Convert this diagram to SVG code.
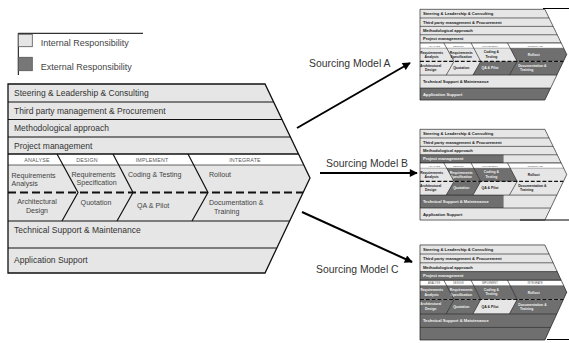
<svg xmlns="http://www.w3.org/2000/svg" xmlns:xlink="http://www.w3.org/1999/xlink" width="569" height="343" viewBox="0 0 569 343">
<style>
.bg{fill:#fff}
.lt{fill:#e6e6e6}
.dk{fill:#6f6f6f}
.wh{fill:#fff}
.ln{fill:none;stroke:#111;stroke-width:1.2}
.lnb{fill:none;stroke:#111;stroke-width:1.6}
.lnt{fill:none;stroke:#222;stroke-width:0.7}
.dash{fill:none;stroke:#111;stroke-width:2.2;stroke-dasharray:8 4}
.out{fill:none;stroke:#111;stroke-width:1.3}
text{font-family:"Liberation Sans",Arial,sans-serif}
.rl{font-size:8.5px;fill:#333}
.sl{font-size:7.1px;fill:#444}
.ph{font-size:5.3px;fill:#555;letter-spacing:0.2px}
.lg{font-size:9px;fill:#444}
.sm{font-weight:bold;fill:#1a1a1a}
.sw{font-weight:bold;fill:#f2f2f2}
.mid{text-anchor:middle}
.src{font-size:10.4px;fill:#333}
.arr{fill:none;stroke:#000;stroke-width:2}
.frm{fill:none;stroke:#000;stroke-width:1}
.lgl{fill:none;stroke:#000;stroke-width:1}
.lgs{stroke:#555;stroke-width:0.8}
</style>
<defs>
<marker id="ah" viewBox="0 0 10 10" refX="9" refY="5" markerWidth="4.5" markerHeight="4" orient="auto" markerUnits="strokeWidth">
<path d="M0,0L10,5L0,10Z" fill="#000"/>
</marker>
<path id="pOut" d="M8,84H265L310,178L265,273H8Z"/>
<path id="pHd" d="M8,154H298.5L303.8,165H8Z"/>
<path id="pPM" d="M8,137H290.4L298.5,154H8Z"/>
<path id="pPMh" d="M8,137H180V154H8Z"/>
<path id="pU1" d="M8,165H63L78,192.5H8Z"/>
<path id="pU2" d="M63,165H118.7L133,192.5H78Z"/>
<path id="pU3" d="M118.7,165H193.7L208,192.5H133Z"/>
<path id="pU4" d="M193.7,165H303.8L310,178L303.1,192.5H208Z"/>
<path id="pL1" d="M8,192.5H78L62,221H8Z"/>
<path id="pL2" d="M78,192.5H133L117,221H62Z"/>
<path id="pL3" d="M133,192.5H208L192,221H117Z"/>
<path id="pL4" d="M208,192.5H303.1L289.6,221H192Z"/>
<path id="pTS" d="M8,221H289.6L276.8,248H8Z"/>
<path id="pTSh" d="M8,221H180V248H8Z"/>
<path id="pAS" d="M8,248H276.8L265,273H8Z"/>
<g id="grid">
<path class="ln" d="M8,102H273.6M8,119.5H282M8,137H290.4M8,221H289.6M8,248H276.8"/>
<path class="lnb" d="M8,154H298.5"/>
<path class="lnt" d="M8,165H303.8"/>
<path class="ln" d="M57,154L78,192.5L62,221M113,154L133,192.5L117,221M188,154L208,192.5L192,221"/>
<path class="dash" d="M8,192.5H303"/>
<path class="out" d="M8,84H265L310,178L265,273H8Z"/>
</g>
</defs>
<rect class="bg" x="0" y="0" width="569" height="343"/>

<g id="legend">
<path class="lgl" d="M18.3,33.3H143M18.3,33.3V75"/>
<rect class="lt lgs" x="18.3" y="34.3" width="14" height="12.4"/>
<text class="lg" x="40.7" y="45.8">Internal Responsibility</text>
<rect class="lgs" fill="#777" x="18.3" y="57.3" width="14" height="13.4"/>
<text class="lg" x="40.7" y="69.8">External Responsibility</text>
</g>

<g id="main-diagram">
<use href="#pOut" class="lt"/>
<use href="#pHd" class="wh"/>
<g id="main-steering"><text class="rl" x="14" y="96">Steering &amp; Leadership &amp; Consulting</text></g>
<g id="main-thirdparty"><text class="rl" x="14" y="113.8">Third party management &amp; Procurement</text></g>
<g id="main-method"><text class="rl" x="14" y="131.3">Methodological approach</text></g>
<g id="main-pm"><text class="rl" x="14" y="148.5">Project management</text></g>
<g id="main-phases">
<text class="ph mid" x="37" y="162">ANALYSE</text>
<text class="ph mid" x="87" y="162">DESIGN</text>
<text class="ph mid" x="152" y="162">IMPLEMENT</text>
<text class="ph mid" x="245" y="162">INTEGRATE</text>
</g>
<g id="main-req-analysis"><text class="sl" x="11.5" y="177.5">Requirements</text><text class="sl" x="11.5" y="186">Analysis</text></g>
<g id="main-req-spec"><text class="sl" x="71.5" y="176.5">Requirements</text><text class="sl" x="76.5" y="184.5">Specification</text></g>
<g id="main-coding"><text class="sl" x="128" y="177">Coding &amp; Testing</text></g>
<g id="main-rollout"><text class="sl" x="209" y="176.5">Rollout</text></g>
<g id="main-arch"><text class="sl mid" x="37" y="204">Architectural</text><text class="sl mid" x="37" y="212.5">Design</text></g>
<g id="main-quotation"><text class="sl mid" x="96" y="205">Quotation</text></g>
<g id="main-qa"><text class="sl" x="137" y="207.5">QA &amp; Pilot</text></g>
<g id="main-doc"><text class="sl" x="209" y="205">Documentation &amp;</text><text class="sl" x="214" y="213.5">Training</text></g>
<g id="main-ts"><text class="rl" x="14" y="233">Technical Support &amp; Maintenance</text></g>
<g id="main-as"><text class="rl" x="14" y="262.5">Application Support</text></g>
<use href="#grid"/>
</g>

<g id="model-a" transform="translate(416.1,-31) scale(0.486,0.48)">
<use href="#pOut" class="lt"/>
<use href="#pHd" class="wh"/>
<use href="#pU4" class="dk"/>
<use href="#pL3" class="dk"/>
<use href="#pL4" class="dk"/>
<use href="#pAS" class="dk"/>
<text class="rl sm" x="14" y="96">Steering &amp; Leadership &amp; Consulting</text>
<text class="rl sm" x="14" y="113.8">Third party management &amp; Procurement</text>
<text class="rl sm" x="14" y="131.3">Methodological approach</text>
<text class="rl sm" x="14" y="148.5">Project management</text>
<text class="ph mid" x="37" y="162">ANALYSE</text>
<text class="ph mid" x="87" y="162">DESIGN</text>
<text class="ph mid" x="152" y="162">IMPLEMENT</text>
<text class="ph mid" x="245" y="162">INTEGRATE</text>
<text class="sl sm mid" x="32" y="176.5">Requirements</text><text class="sl sm mid" x="32" y="185">Analysis</text>
<text class="sl sm mid" x="93" y="176.5">Requirements</text><text class="sl sm mid" x="93" y="185">Specification</text>
<text class="sl sm mid" x="155" y="176">Coding &amp;</text><text class="sl sm mid" x="155" y="184.5">Testing</text>
<text class="sl sw mid" x="242" y="181">Rollout</text>
<text class="sl sm mid" x="30" y="204">Architectural</text><text class="sl sm mid" x="30" y="212.5">Design</text>
<text class="sl sm mid" x="93" y="209">Quotation</text>
<text class="sl sw mid" x="152" y="209">QA &amp; Pilot</text>
<text class="sl sw" x="210" y="204.5">Documentation &amp;</text><text class="sl sw" x="214" y="213">Training</text>
<text class="rl sm" x="14" y="237.5">Technical Support &amp; Maintenance</text>
<text class="rl sw" x="14" y="264">Application Support</text>
<use href="#grid"/>
</g>

<g id="model-b" transform="translate(416.1,89) scale(0.486,0.48)">
<use href="#pOut" class="lt"/>
<use href="#pHd" class="wh"/>
<use href="#pPMh" class="dk"/>
<use href="#pU2" class="dk"/>
<use href="#pU3" class="dk"/>
<use href="#pL2" class="dk"/>
<use href="#pTSh" class="dk"/>
<text class="rl sm" x="14" y="96">Steering &amp; Leadership &amp; Consulting</text>
<text class="rl sm" x="14" y="113.8">Third party management &amp; Procurement</text>
<text class="rl sm" x="14" y="131.3">Methodological approach</text>
<text class="rl sw" x="14" y="148.5">Project management</text>
<text class="ph mid" x="37" y="162">ANALYSE</text>
<text class="ph mid" x="87" y="162">DESIGN</text>
<text class="ph mid" x="152" y="162">IMPLEMENT</text>
<text class="ph mid" x="245" y="162">INTEGRATE</text>
<text class="sl sm mid" x="32" y="176.5">Requirements</text><text class="sl sm mid" x="32" y="185">Analysis</text>
<text class="sl sw mid" x="93" y="176.5">Requirements</text><text class="sl sw mid" x="93" y="185">Specification</text>
<text class="sl sw mid" x="155" y="176">Coding &amp;</text><text class="sl sw mid" x="155" y="184.5">Testing</text>
<text class="sl sm mid" x="242" y="181">Rollout</text>
<text class="sl sm mid" x="30" y="204">Architectural</text><text class="sl sm mid" x="30" y="212.5">Design</text>
<text class="sl sw mid" x="93" y="209">Quotation</text>
<text class="sl sm mid" x="152" y="209">QA &amp; Pilot</text>
<text class="sl sm" x="210" y="204.5">Documentation &amp;</text><text class="sl sm" x="214" y="213">Training</text>
<text class="rl sw" x="14" y="237.5">Technical Support &amp; Maintenance</text>
<text class="rl sm" x="14" y="264">Application Support</text>
<use href="#grid"/>
</g>

<g id="model-c" transform="translate(416.1,202.7) scale(0.486,0.503)">
<use href="#pOut" class="lt"/>
<use href="#pHd" class="wh"/>
<use href="#pPM" class="dk"/>
<use href="#pU1" class="dk"/>
<use href="#pU2" class="dk"/>
<use href="#pU3" class="dk"/>
<use href="#pU4" class="dk"/>
<use href="#pL1" class="dk"/>
<use href="#pL2" class="dk"/>
<use href="#pL4" class="dk"/>
<use href="#pTS" class="dk"/>
<use href="#pAS" class="dk"/>
<text class="rl sm" x="14" y="96">Steering &amp; Leadership &amp; Consulting</text>
<text class="rl sm" x="14" y="113.8">Third party management &amp; Procurement</text>
<text class="rl sm" x="14" y="131.3">Methodological approach</text>
<text class="rl sw" x="14" y="148.5">Project management</text>
<text class="ph mid" x="37" y="162">ANALYSE</text>
<text class="ph mid" x="87" y="162">DESIGN</text>
<text class="ph mid" x="152" y="162">IMPLEMENT</text>
<text class="ph mid" x="245" y="162">INTEGRATE</text>
<text class="sl sw mid" x="32" y="176.5">Requirements</text><text class="sl sw mid" x="32" y="185">Analysis</text>
<text class="sl sw mid" x="93" y="176.5">Requirements</text><text class="sl sw mid" x="93" y="185">Specification</text>
<text class="sl sw mid" x="155" y="176">Coding &amp;</text><text class="sl sw mid" x="155" y="184.5">Testing</text>
<text class="sl sw mid" x="242" y="181">Rollout</text>
<text class="sl sw mid" x="30" y="204">Architectural</text><text class="sl sw mid" x="30" y="212.5">Design</text>
<text class="sl sw mid" x="93" y="209">Quotation</text>
<text class="sl sm mid" x="152" y="209">QA &amp; Pilot</text>
<text class="sl sw" x="210" y="204.5">Documentation &amp;</text><text class="sl sw" x="214" y="213">Training</text>
<text class="rl sw" x="14" y="237.5">Technical Support &amp; Maintenance</text>
<use href="#grid"/>
</g>

<g id="frame-lines">
<path class="frm" d="M543,8.5H569M520,220H569M547,339.5H569"/>
</g>

<g id="connectors">
<line class="arr" x1="297" y1="128" x2="410" y2="63" marker-end="url(#ah)"/>
<line class="arr" x1="320" y1="173" x2="417" y2="173" marker-end="url(#ah)"/>
<line class="arr" x1="302" y1="212" x2="412" y2="262" marker-end="url(#ah)"/>
</g>

<g id="labels">
<text class="src" x="309" y="67">Sourcing Model A</text>
<text class="src" x="326" y="167">Sourcing Model B</text>
<text class="src" x="316" y="273">Sourcing Model C</text>
</g>
</svg>
